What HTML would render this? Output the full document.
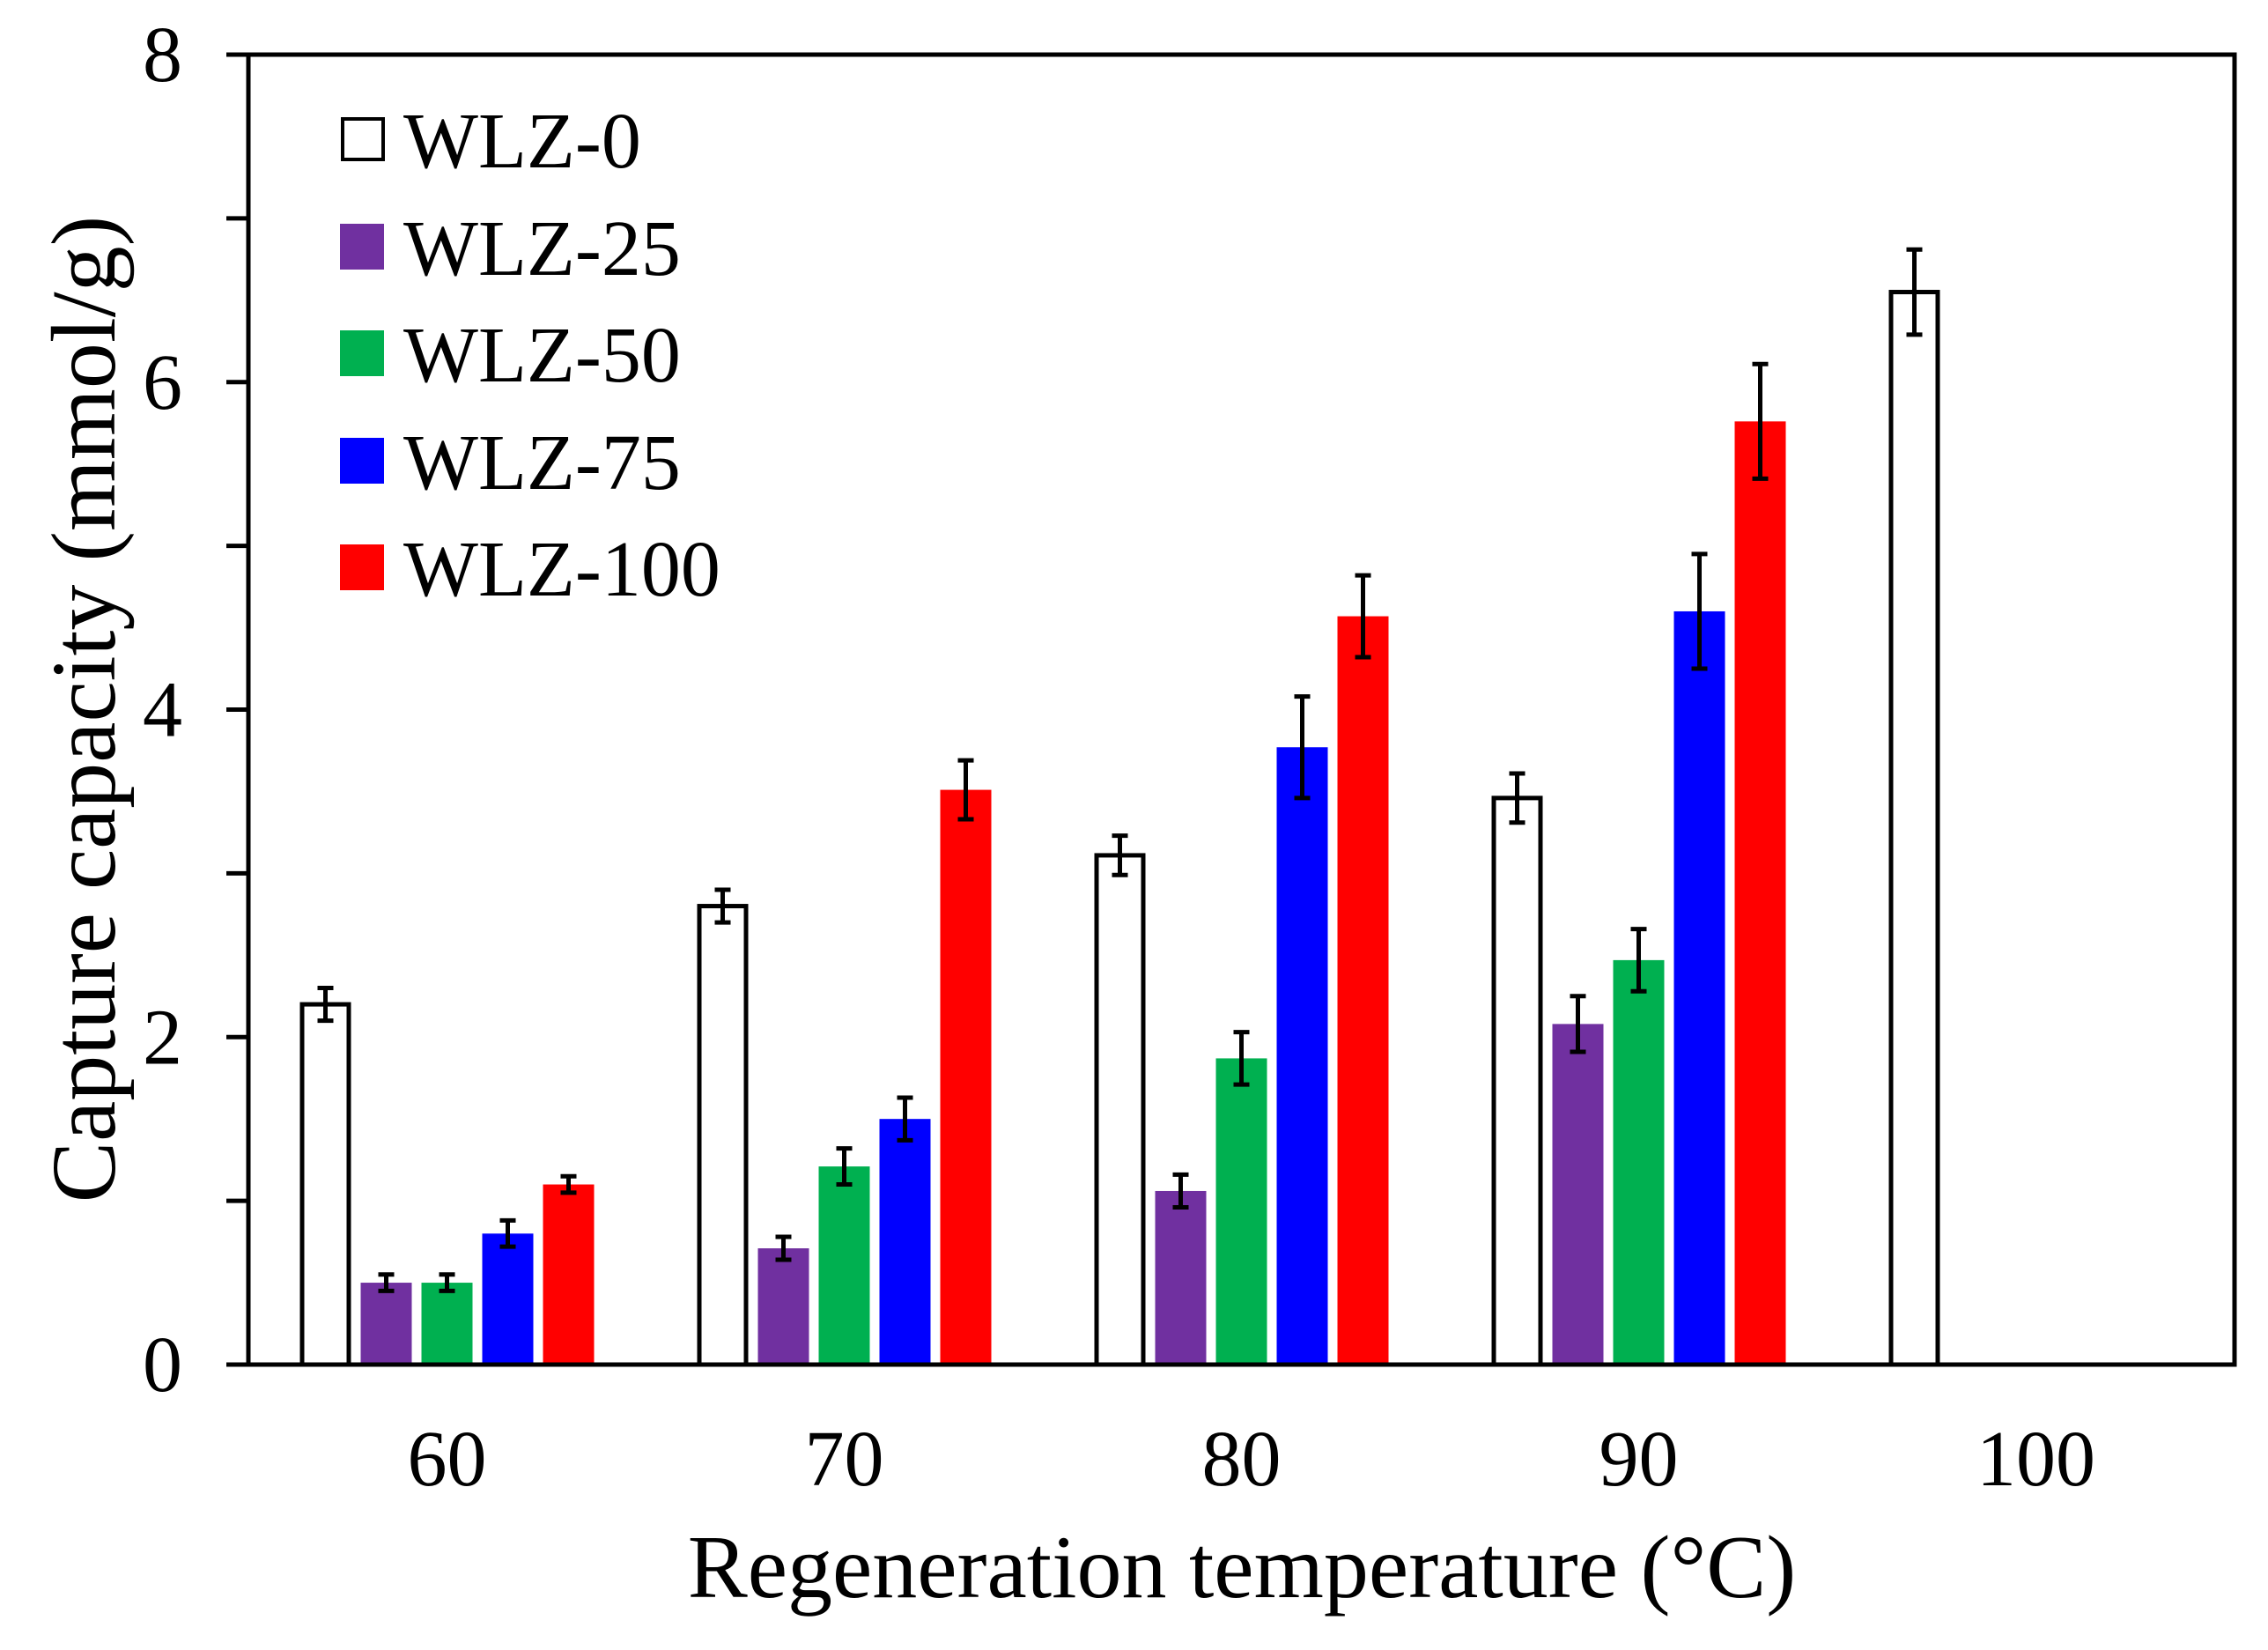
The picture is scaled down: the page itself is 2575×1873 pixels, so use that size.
<!DOCTYPE html>
<html><head><meta charset="utf-8"><style>
html,body{margin:0;padding:0;background:#fff;}
svg{display:block;}
text{font-family:"Liberation Serif",serif;fill:#000;}
</style></head><body>
<svg id="chart" width="2575" height="1873" viewBox="0 0 2575 1873" xmlns="http://www.w3.org/2000/svg">
<g id="bars"></g>
<g id="axes"></g>
<g id="legend"></g>
<text x="0" y="0" font-size="104" text-anchor="middle" transform="translate(130,805) rotate(-90)">Capture capacity (mmol/g)</text>
<text x="1410" y="1813" font-size="102" text-anchor="middle">Regeneration temperature (°C)</text>
</svg>
<script>
const categories = ["60","70","80","90","100"];
const seriesNames = ["WLZ-0","WLZ-25","WLZ-50","WLZ-75","WLZ-100"];
const wlz0 = [2.20, 2.80, 3.11, 3.46, 6.55];
const wlz25 = [0.50, 0.71, 1.06, 2.08, null];
const wlz50 = [0.50, 1.21, 1.87, 2.47, null];
const wlz75 = [0.80, 1.50, 3.77, 4.60, null];
const wlz100 = [1.10, 3.51, 4.57, 5.76, null];
const err0 = [0.10, 0.10, 0.12, 0.15, 0.26];
const err25 = [0.05, 0.07, 0.10, 0.17, null];
const err50 = [0.05, 0.11, 0.16, 0.19, null];
const err75 = [0.08, 0.13, 0.31, 0.35, null];
const err100 = [0.05, 0.18, 0.25, 0.35, null];
const yTicks = [0,1,2,3,4,5,6,7,8];
const yLabels = [0,2,4,6,8];

const NS = "http://www.w3.org/2000/svg";
const L = 282, R = 2537, T = 62, B = 1549, yMax = 8;
const colors = ["#fff","#7030A0","#00B050","#0000FF","#FF0000"];
const values = [wlz0, wlz25, wlz50, wlz75, wlz100];
const errs = [err0, err25, err50, err75, err100];
function y(v){ return B - (B - T) * v / yMax; }
const bandW = (R - L) / categories.length;
function xc(i){ return L + bandW * (i + 0.5); }
const step = 69, bw = 58;
function mk(tag, attrs, parent){ const e = document.createElementNS(NS, tag); for (const k in attrs) e.setAttribute(k, attrs[k]); parent.appendChild(e); return e; }

const bars = document.getElementById("bars");
values.forEach((arr, s) => {
  arr.forEach((v, i) => {
    if (v === null) return;
    const x0 = xc(i) + (s - 2) * step - bw / 2;
    const r = mk("rect", {x: s===0 ? x0+2.5 : x0, y: y(v), width: s===0 ? bw-5 : bw, height: B - y(v), fill: colors[s], stroke: s===0 ? "#000" : "none", "stroke-width": 5}, bars);
    
    
    const e = errs[s][i];
    const cx = xc(i) + (s - 2) * step;
    const g = mk("g", {stroke: "#000", "stroke-width": 5}, bars);
    
    
    mk("line", {x1: cx, x2: cx, y1: y(v + e), y2: y(v - e)}, g);
    mk("line", {x1: cx - 9, x2: cx + 9, y1: y(v + e), y2: y(v + e)}, g);
    mk("line", {x1: cx - 9, x2: cx + 9, y1: y(v - e), y2: y(v - e)}, g);
  });
});

const axes = document.getElementById("axes");
const frame = mk("rect", {x: L, y: T, width: R - L, height: B - T, fill: "none", stroke: "#000", "stroke-width": 5}, axes);


yTicks.forEach(t => {
  const tk = mk("line", {x1: L - 25, x2: L, y1: y(t), y2: y(t), stroke: "#000", "stroke-width": 5}, axes);
  
  
});
yLabels.forEach(t => {
  const tx = mk("text", {x: 207, y: y(t) + 30, "font-size": 90, "text-anchor": "end"}, axes);
  tx.textContent = t;
  
  
});
categories.forEach((c, i) => {
  const tx = mk("text", {x: xc(i), y: 1686, "font-size": 90, "text-anchor": "middle"}, axes);
  tx.textContent = c;
  
  
});

const legend = document.getElementById("legend");
const rowY = [159, 281, 402, 524, 645];
seriesNames.forEach((n, s) => {
  const g = mk("g", {}, legend);
  
  
  if (s === 0) mk("rect", {x: 389, y: rowY[s] - 24, width: 46, height: 46, fill: "#fff", stroke: "#000", "stroke-width": 4}, g);
  else mk("rect", {x: 386, y: rowY[s] - 27, width: 50, height: 52, fill: colors[s]}, g);
  const tx = mk("text", {x: 458, y: rowY[s] + 31, "font-size": 90}, g);
  tx.textContent = n;
});
</script>
</body></html>
